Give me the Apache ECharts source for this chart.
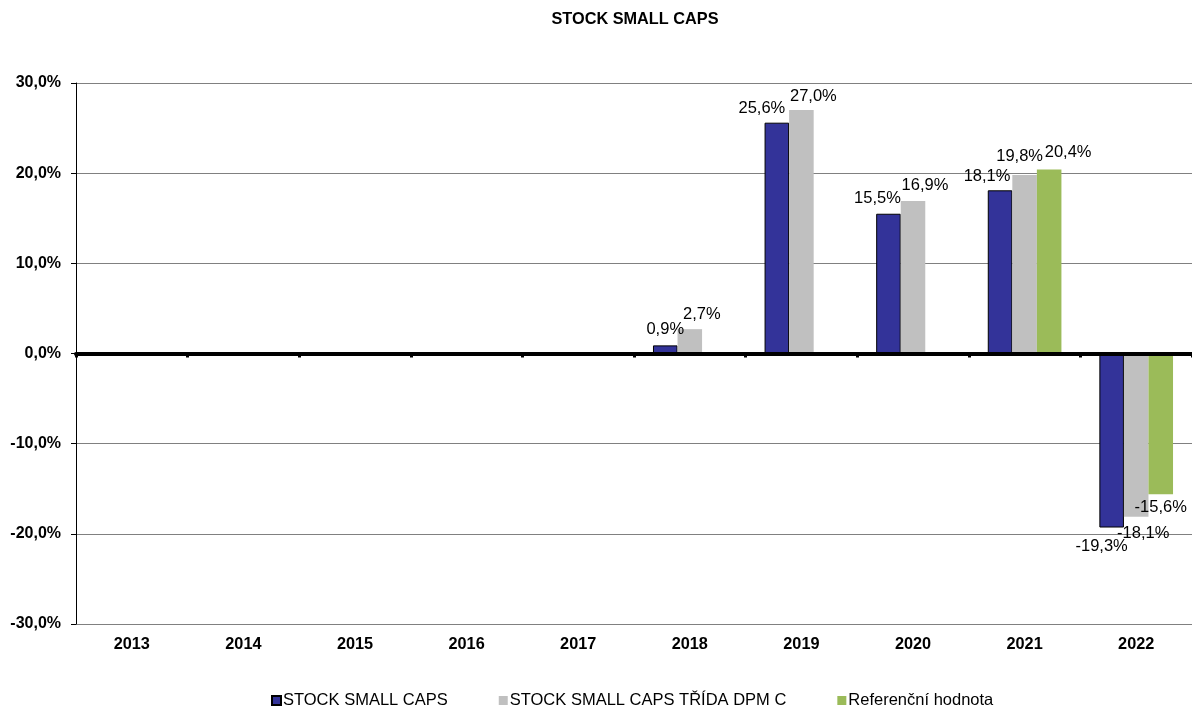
<!DOCTYPE html>
<html>
<head>
<meta charset="utf-8">
<script src="https://cdn.jsdelivr.net/npm/echarts@6/dist/echarts.min.js"></script>
<style>
html,body{margin:0;padding:0;background:#fff;}
#chart{width:1192px;height:709px;}
</style>
</head>
<body>
<div id="chart"></div>
<script>
// ---- data ----
const categories = ['2013','2014','2015','2016','2017','2018','2019','2020','2021','2022'];
const seriesNames = ['STOCK SMALL CAPS','STOCK SMALL CAPS TŘÍDA DPM C','Referenční hodnota'];
const fundValues  = [null, null, null, null, null, 0.9, 25.6, 15.5, 18.1, -19.3];
const classValues = [null, null, null, null, null, 2.7, 27.0, 16.9, 19.8, -18.1];
const refValues   = [null, null, null, null, null, null, null, null, 20.4, -15.6];
const yTicks = [-30, -20, -10, 0, 10, 20, 30];

// ---- label placement (style, not data) ----
const labelShift = [
  [0,0,0,0,0, [0,-3],  [-15,-2], [-11,-3], [-13,-1], [-10,6]],
  [0,0,0,0,0, [12,-2], [12,-1],  [12,-3],  [-5,-6],  [7,4]],
  [0,0,0,0,0, 0,0,0,               [19,-5],  [0,1]]
];
const colors = ['#333399', '#C0C0C0', '#9BBB59'];
const FONT = 'Liberation Sans, Arial, sans-serif';

function fmt(v){ return v.toFixed(1).replace('.', ',') + '%'; }

function buildData(vals, si){
  return vals.map((v, i) => {
    if (v === null) return null;
    const off = labelShift[si][i] || [0,0];
    return { value: v, label: { offset: off, position: v < 0 ? 'bottom' : 'top' } };
  });
}

const allVals = [fundValues, classValues, refValues];

const chart = echarts.init(document.getElementById('chart'), null, {renderer: 'canvas'});
chart.setOption({
  animation: false,
  backgroundColor: '#fff',
  title: {
    text: 'STOCK SMALL CAPS',
    left: 630, top: 7, textAlign: 'center',
    textStyle: { fontFamily: FONT, fontSize: 16.3, fontWeight: 'bold', color: '#000' }
  },
  legend: {
    top: 692, left: 271, padding: 0,
    itemWidth: 9, itemHeight: 9, itemGap: 51,
    icon: 'rect',
    textStyle: { fontFamily: FONT, fontSize: 16.5, color: '#000', padding: [0,0,0,-3] },
    data: seriesNames
  },
  grid: { left: 76, right: -4, top: 83, bottom: 85, containLabel: false },
  xAxis: [
    {
      type: 'category', data: categories, position: 'bottom',
      axisLine: { show: false, onZero: false },
      axisTick: { show: false },
      axisLabel: { fontFamily: FONT, fontSize: 16.3, fontWeight: 'bold', color: '#000', margin: 13 },
      splitLine: { show: false }
    },
    {
      type: 'category', data: categories, position: 'bottom', z: 5,
      axisLine: { show: true, onZero: true, lineStyle: { color: '#000', width: 4 } },
      axisTick: { show: true, inside: false, length: 4, lineStyle: { color: '#000', width: 3 } },
      axisLabel: { show: false },
      splitLine: { show: false }
    }
  ],
  yAxis: {
    type: 'value', min: yTicks[0], max: yTicks[yTicks.length-1], interval: 10,
    axisLine: { show: true, lineStyle: { color: '#000', width: 1 } },
    axisTick: { show: true, length: 5, lineStyle: { color: '#000' } },
    axisLabel: { formatter: fmt, fontFamily: FONT, fontSize: 16, fontWeight: 'bold', color: '#000', margin: 15 },
    splitLine: { show: true, lineStyle: { color: '#808080', width: 1 } }
  },
  series: seriesNames.map((name, si) => ({
    name: name,
    type: 'bar',
    xAxisIndex: 0,
    barGap: '0%',
    barCategoryGap: '34%',
    data: buildData(allVals[si], si),
    itemStyle: si === 0
      ? { color: colors[si], borderColor: '#000', borderWidth: 1 }
      : { color: colors[si] },
    label: {
      show: true,
      formatter: p => fmt(p.value),
      fontFamily: FONT, fontSize: 16.5, color: '#000',
      distance: 4
    }
  }))
});
</script>
</body>
</html>
